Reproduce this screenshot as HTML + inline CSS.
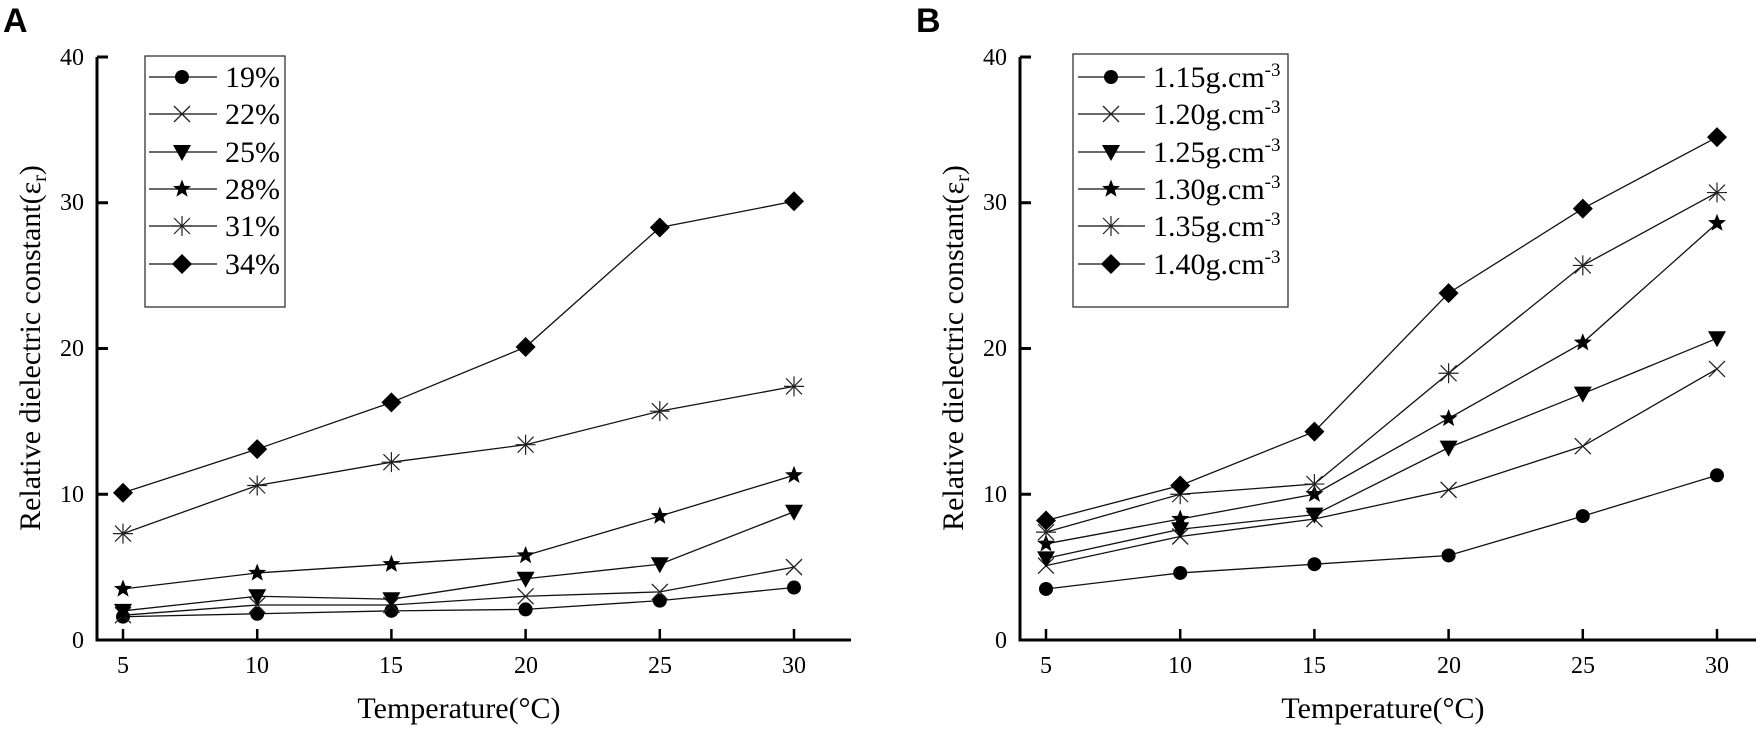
<!DOCTYPE html>
<html><head><meta charset="utf-8"><style>
html,body{margin:0;padding:0;background:#fff;}
svg{display:block;}
text{font-family:"Liberation Serif",serif;}
</style></head><body>
<svg id="s" width="1756" height="734" viewBox="0 0 1756 734" xmlns="http://www.w3.org/2000/svg">
<text x="3" y="32" style="font-family:'Liberation Sans',sans-serif" font-weight="bold" font-size="34">A</text>
<text x="916" y="32" style="font-family:'Liberation Sans',sans-serif" font-weight="bold" font-size="34">B</text>
<g font-size="24" text-anchor="end" font-family="Liberation Serif, serif">
<text x="84" y="65">40</text><text x="84" y="210">30</text><text x="84" y="356">20</text><text x="84" y="502">10</text><text x="84" y="648">0</text>
<text x="1007" y="65">40</text><text x="1007" y="210">30</text><text x="1007" y="356">20</text><text x="1007" y="502">10</text><text x="1007" y="648">0</text>
</g>
<g font-size="24" text-anchor="middle" font-family="Liberation Serif, serif">
<text x="123" y="673">5</text><text x="257" y="673">10</text><text x="391" y="673">15</text><text x="526" y="673">20</text><text x="660" y="673">25</text><text x="794" y="673">30</text>
<text x="1046" y="673">5</text><text x="1180" y="673">10</text><text x="1314" y="673">15</text><text x="1449" y="673">20</text><text x="1583" y="673">25</text><text x="1717" y="673">30</text>
</g>
<g font-size="30" text-anchor="middle" font-family="Liberation Serif, serif">
<text x="459" y="718">Temperature(°C)</text>
<text x="1383" y="718">Temperature(°C)</text>
<text transform="translate(40,348) rotate(-90)">Relative dielectric constant(ε<tspan font-size="20" dy="6">r</tspan><tspan dy="-6">)</tspan></text>
<text transform="translate(963,348) rotate(-90)">Relative dielectric constant(ε<tspan font-size="20" dy="6">r</tspan><tspan dy="-6">)</tspan></text>
</g>
<g font-size="30" font-family="Liberation Serif, serif">
<text x="225" y="87">19%</text><text x="225" y="124">22%</text><text x="225" y="162">25%</text><text x="225" y="199">28%</text><text x="225" y="236">31%</text><text x="225" y="274">34%</text>
<text x="1153" y="87">1.15g.cm<tspan font-size="19" dy="-11">-3</tspan></text>
<text x="1153" y="124">1.20g.cm<tspan font-size="19" dy="-11">-3</tspan></text>
<text x="1153" y="162">1.25g.cm<tspan font-size="19" dy="-11">-3</tspan></text>
<text x="1153" y="199">1.30g.cm<tspan font-size="19" dy="-11">-3</tspan></text>
<text x="1153" y="236">1.35g.cm<tspan font-size="19" dy="-11">-3</tspan></text>
<text x="1153" y="274">1.40g.cm<tspan font-size="19" dy="-11">-3</tspan></text>
</g>
<rect x="145" y="56" width="140" height="251" fill="none" stroke="#333" stroke-width="1.3"/>
<rect x="1073" y="54" width="215" height="253" fill="none" stroke="#333" stroke-width="1.3"/>
<g id="g"></g>
</svg>
<script>
var NS="http://www.w3.org/2000/svg",g=document.getElementById('g');
function el(t,a){var e=document.createElementNS(NS,t);for(var k in a)e.setAttribute(k,a[k]);g.appendChild(e);return e;}
function mk(type,x,y){
 if(type==0)el('circle',{cx:x,cy:y,r:7,fill:'#000'});
 else if(type==1)el('path',{d:`M${x-8} ${y-8}L${x+8} ${y+8}M${x-8} ${y+8}L${x+8} ${y-8}`,stroke:'#222','stroke-width':1.3,fill:'none'});
 else if(type==2)el('path',{d:`M${x-9} ${y-7}L${x+9} ${y-7}L${x} ${y+9}Z`,fill:'#000'});
 else if(type==3){var p=[];for(var i=0;i<10;i++){var r=i%2?4:9.5,a=-Math.PI/2+i*Math.PI/5;p.push((x+r*Math.cos(a)).toFixed(1)+','+(y+r*Math.sin(a)).toFixed(1));}el('polygon',{points:p.join(' '),fill:'#000'});}
 else if(type==4)el('path',{d:`M${x-8} ${y-8}L${x+8} ${y+8}M${x-8} ${y+8}L${x+8} ${y-8}M${x-10} ${y}L${x+10} ${y}M${x} ${y-10}L${x} ${y+10}`,stroke:'#222','stroke-width':1.2,fill:'none'});
 else el('path',{d:`M${x} ${y-10}L${x+10} ${y}L${x} ${y+10}L${x-10} ${y}Z`,fill:'#000'});
}
function axes(x0,xs){
 el('path',{d:`M${x0} 57L${x0} 640L${xs+728} 640`,stroke:'#000','stroke-width':3,fill:'none'});
 for(var v=0;v<=40;v+=10){var y=640-v*14.575;el('line',{x1:x0,y1:y,x2:x0+11,y2:y,stroke:'#000','stroke-width':3});}
 for(var t=5;t<=30;t+=5){var x=xs+(t-5)*26.84;el('line',{x1:x,y1:640,x2:x,y2:629,stroke:'#000','stroke-width':2.5});}
}
axes(97,123);axes(1020,1046);
var A=[[1.6,1.8,2.0,2.1,2.7,3.6],[1.7,2.4,2.4,3.0,3.3,5.0],[2.0,3.0,2.8,4.2,5.2,8.8],[3.5,4.6,5.2,5.8,8.5,11.3],[7.3,10.6,12.2,13.4,15.7,17.4],[10.1,13.1,16.3,20.1,28.3,30.1]];
var B=[[3.5,4.6,5.2,5.8,8.5,11.3],[5.1,7.1,8.3,10.3,13.3,18.6],[5.6,7.6,8.6,13.2,16.9,20.7],[6.6,8.3,10.0,15.2,20.4,28.6],[7.4,10.0,10.7,18.3,25.7,30.7],[8.2,10.6,14.3,23.8,29.6,34.5]];
function series(D,xs){D.forEach(function(s,k){var pts=s.map(function(v,i){return[xs+i*5*26.84,640-v*14.575];});
 el('polyline',{points:pts.map(p=>p.join(',')).join(' '),fill:'none',stroke:'#111','stroke-width':1.3});
 pts.forEach(p=>mk(k,p[0],p[1]));});}
series(A,123);series(B,1046);
[77,114,152,189,226,264].forEach(function(y,k){
 el('line',{x1:149,y1:y,x2:217,y2:y,stroke:'#111','stroke-width':1.3});mk(k,182,y);
 el('line',{x1:1078,y1:y,x2:1145,y2:y,stroke:'#111','stroke-width':1.3});mk(k,1111,y);
});
</script>
</body></html>
